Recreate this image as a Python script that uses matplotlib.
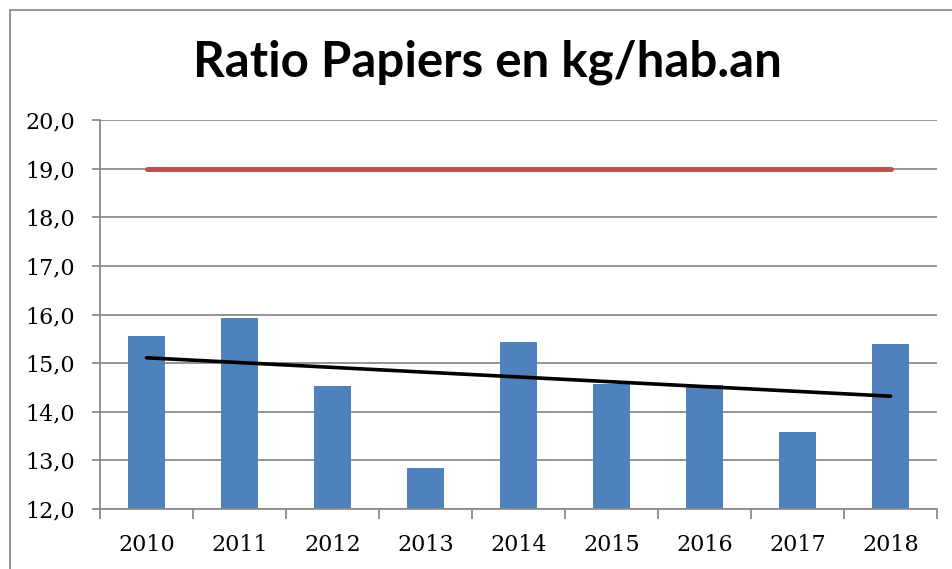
import matplotlib
matplotlib.use("Agg")
import matplotlib.pyplot as plt
from matplotlib.patches import Rectangle
from matplotlib.ticker import FuncFormatter, FixedLocator

# data
years = ["2010", "2011", "2012", "2013", "2014", "2015", "2016", "2017", "2018"]
ratio = [15.56, 15.93, 14.52, 12.84, 15.43, 14.58, 14.56, 13.58, 15.39]
target = [19.0] * len(years)
# linear trend line, endpoints
trend_years = ["2010", "2018"]
trend_vals = [15.11, 14.32]

W, H = 952, 569
fig = plt.figure(figsize=(W / 100, H / 100), dpi=100)
ax = fig.add_axes([100 / W, 1 - 509 / H, (937 - 100) / W, (509 - 120) / H])

x = list(range(len(years)))
ax.bar(x, ratio, width=0.4, color="#4F81BD", zorder=2)
ax.plot(x, target, color="#C0504D", lw=3.6, solid_capstyle="round", zorder=3)
tx = [years.index(y) for y in trend_years]
ax.plot(tx, trend_vals, color="black", lw=2.6, solid_capstyle="round", zorder=4)

grid_col = "#8C8C8C"
ax.set_ylim(12, 20)
ax.set_xlim(-0.5, len(years) - 0.5)
ax.set_yticks([12, 13, 14, 15, 16, 17, 18, 19, 20])
ax.yaxis.set_major_formatter(FuncFormatter(lambda v, p: f"{v:.1f}".replace(".", ",")))
ax.grid(axis="y", color=grid_col, lw=1.3, zorder=0)

# x ticks on category boundaries, labels centered
ax.xaxis.set_major_locator(FixedLocator([i - 0.5 for i in range(len(years) + 1)]))
ax.xaxis.set_major_formatter(FuncFormatter(lambda v, p: ""))
ax.xaxis.set_minor_locator(FixedLocator(x))
ax.set_xticklabels(years, minor=True)
ax.tick_params(axis="x", which="minor", length=0, pad=18)
ax.tick_params(axis="x", which="major", length=7, width=1.3, color=grid_col, direction="out")
ax.tick_params(axis="y", length=6, width=1.3, color=grid_col, pad=12)

for lab in ax.get_xticklabels(minor=True) + ax.get_yticklabels():
    lab.set_fontfamily("DejaVu Serif")
    lab.set_fontsize(16)

for s in ["top", "right"]:
    ax.spines[s].set_visible(False)
for s in ["left", "bottom"]:
    ax.spines[s].set_color(grid_col)
    ax.spines[s].set_linewidth(1.3)

fig.text(487 / W, 1 - 62 / H, "Ratio Papiers en kg/hab.an", ha="center", va="center",
         fontsize=35.5, fontweight="bold", family="Lato")

# outer chart border (cropped on right and bottom)
fig.add_artist(Rectangle((10 / W, -0.1), 1.0, (H - 10) / H + 0.1, transform=fig.transFigure,
                         fill=False, edgecolor="#8C8C8C", lw=1.3))

fig.savefig("out.png", dpi=100)
